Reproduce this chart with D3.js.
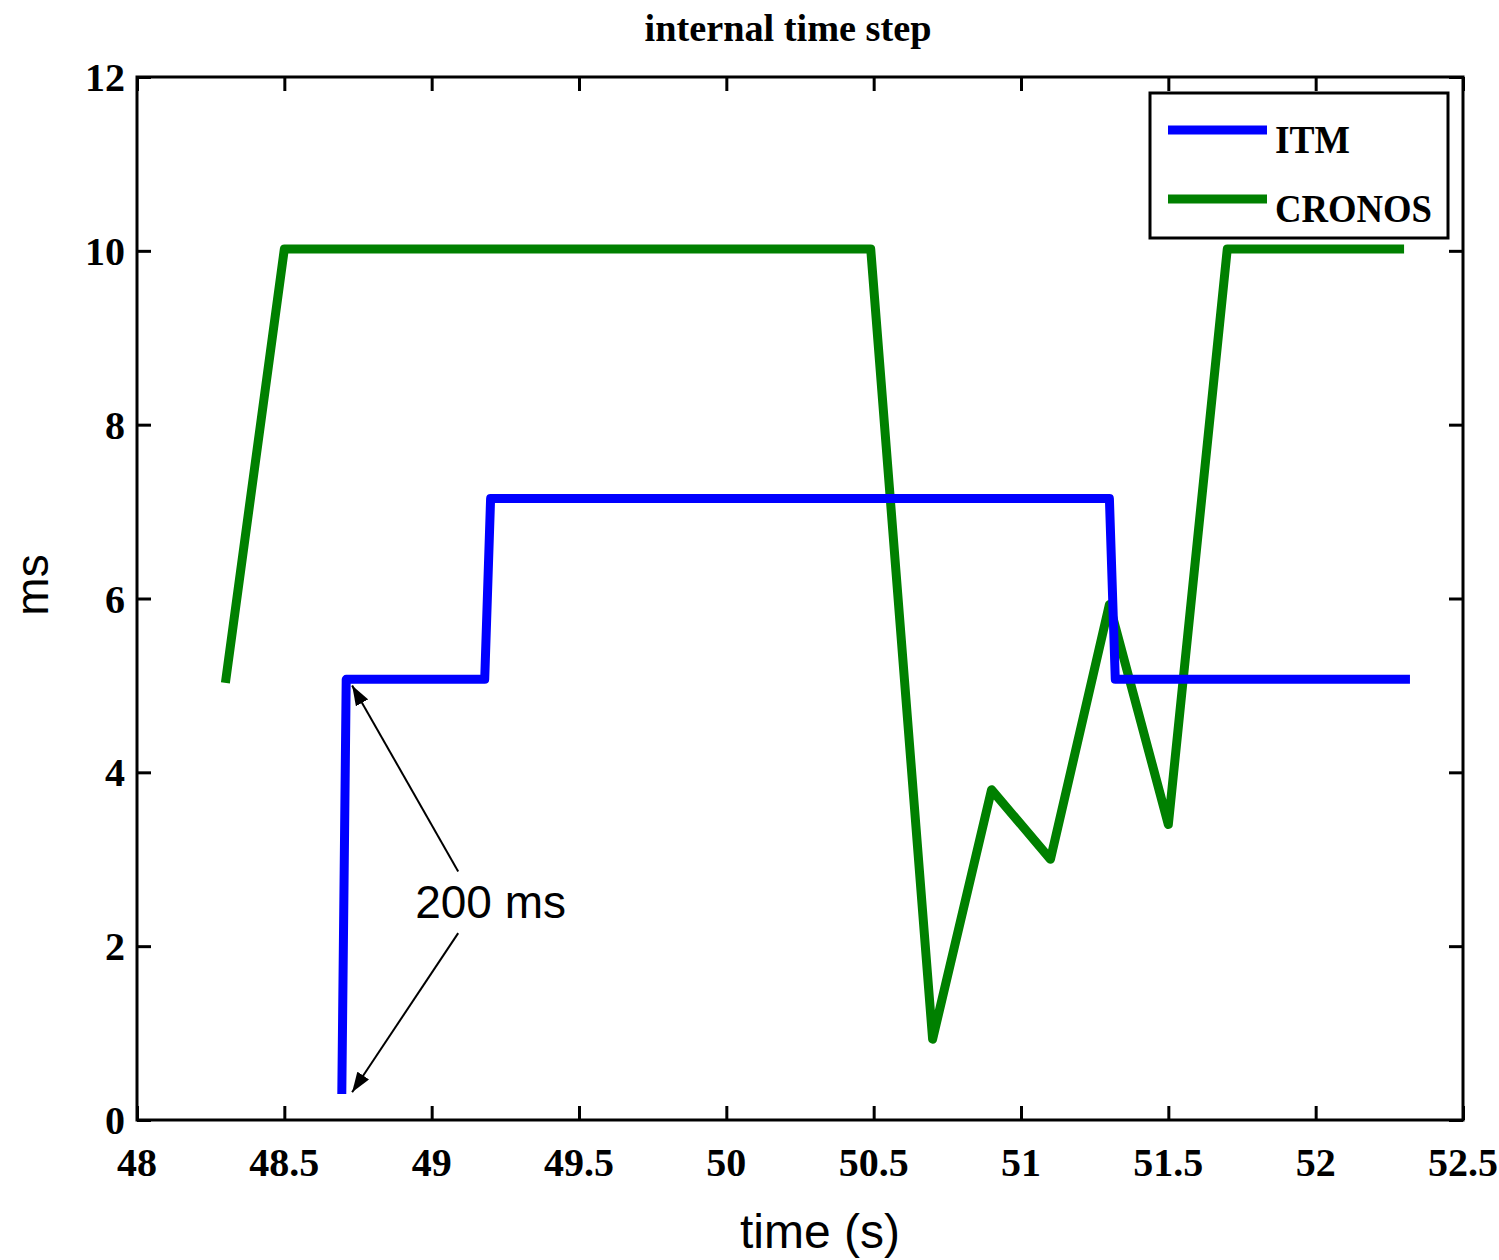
<!DOCTYPE html>
<head>
  <meta charset="utf-8">
  <title>internal time step</title>
  <script src="https://d3js.org/d3.v7.min.js"></script>
  <style type="text/css">
    body { margin: 0; background: #fff; }
    .tick-label { font-family: "Liberation Serif", serif; font-weight: bold; font-size: 40px; }
    .axis-title { font-family: "Liberation Sans", Arial, sans-serif; font-size: 46px; }
    .series { fill: none; stroke-width: 9px; stroke-linejoin: round; }
  </style>
</head>
<body>
  <div id="graph-container"></div>

<script>
// ================= data =================
  const xTicks = [48, 48.5, 49, 49.5, 50, 50.5, 51, 51.5, 52, 52.5];
  const yTicks = [0, 2, 4, 6, 8, 10, 12];

  // ITM internal time step (ms)
  const itmTime = [48.695, 48.71, 49.18, 49.2, 51.3, 51.32, 52.32];
  const itmStep = [0.3, 5.07, 5.07, 7.15, 7.15, 5.07, 5.07];

  // CRONOS internal time step (ms)
  const cronosTime = [48.3, 48.5, 50.49, 50.7, 50.9, 51.1, 51.3, 51.5, 51.7, 52.3];
  const cronosStep = [5.03, 10.02, 10.02, 0.93, 3.8, 3.0, 5.93, 3.4, 10.02, 10.02];

  const seriesNames = ["ITM", "CRONOS"];
  const seriesColors = ["#0000ff", "#008000"];

  // "200 ms" annotation: text anchor and arrow tails/tips in data units
  const noteText = "200 ms";
  const notePos = [49.2, 2.32];
  const arrowTails = [[49.09, 2.86], [49.09, 2.15]];
  const arrowTips = [[48.73, 5.0], [48.73, 0.32]];

// ================= chart prep =================
  let margin = { top: 77, right: 36, bottom: 140, left: 137 },
      width = 1499,
      height = 1260,
      w = width - margin.left - margin.right,
      h = height - margin.top - margin.bottom;

  let x = d3.scaleLinear().domain([48, 52.5]).range([0, w]);
  let y = d3.scaleLinear().domain([0, 12]).range([h, 0]);

  let svg = d3.select("#graph-container").append("svg")
        .attr("width", width)
        .attr("height", height),
      g = svg.append("g")
        .attr("transform", "translate(" + margin.left + "," + margin.top + ")");

  // arrow head marker
  svg.append("defs").append("marker")
      .attr("id", "head")
      .attr("viewBox", "0 0 20 14")
      .attr("refX", 20).attr("refY", 7)
      .attr("markerWidth", 20).attr("markerHeight", 14)
      .attr("markerUnits", "userSpaceOnUse")
      .attr("orient", "auto")
    .append("path")
      .attr("d", "M0,0 L20,7 L0,14 Z")
      .attr("fill", "#000");

  // title
  svg.append("text")
      .attr("x", 788).attr("y", 41)
      .attr("text-anchor", "middle")
      .attr("textLength", 287)
      .attr("lengthAdjust", "spacingAndGlyphs")
      .style("font-family", "'Liberation Serif', serif")
      .style("font-weight", "bold")
      .style("font-size", "38px")
      .text("internal time step");

  // ticks on all four sides (inward)
  const tl = 14;
  g.append("g").call(d3.axisBottom(x).tickValues(xTicks).tickSize(-tl).tickFormat(""))
      .attr("transform", "translate(0," + h + ")");
  g.append("g").call(d3.axisTop(x).tickValues(xTicks).tickSize(-tl).tickFormat(""));
  g.append("g").call(d3.axisLeft(y).tickValues(yTicks).tickSize(-tl).tickFormat(""));
  g.append("g").call(d3.axisRight(y).tickValues(yTicks).tickSize(-tl).tickFormat(""))
      .attr("transform", "translate(" + w + ",0)");
  g.selectAll(".domain").remove();
  g.selectAll(".tick line").attr("stroke", "#000").attr("stroke-width", 3);

  // tick labels
  g.selectAll(".xlab").data(xTicks).enter().append("text")
      .attr("class", "tick-label")
      .attr("x", d => x(d)).attr("y", h + 56)
      .attr("text-anchor", "middle")
      .text(d => d);
  g.selectAll(".ylab").data(yTicks).enter().append("text")
      .attr("class", "tick-label")
      .attr("x", -12).attr("y", d => y(d) + 14)
      .attr("text-anchor", "end")
      .text(d => d);

  // series
  const line = d3.line().x(d => x(d[0])).y(d => y(d[1]));
  const itm = itmTime.map((t, i) => [t, itmStep[i]]);
  const cronos = cronosTime.map((t, i) => [t, cronosStep[i]]);

  g.append("path").datum(cronos).attr("class", "series")
      .attr("stroke", seriesColors[1]).attr("d", line);
  g.append("path").datum(itm).attr("class", "series")
      .attr("stroke", seriesColors[0]).attr("d", line);

  // box
  g.append("rect")
      .attr("width", w).attr("height", h)
      .attr("fill", "none").attr("stroke", "#000").attr("stroke-width", 3);

  // annotation
  arrowTails.forEach((t, i) => {
    g.append("line")
      .attr("x1", x(t[0])).attr("y1", y(t[1]))
      .attr("x2", x(arrowTips[i][0])).attr("y2", y(arrowTips[i][1]))
      .attr("stroke", "#000").attr("stroke-width", 2)
      .attr("marker-end", "url(#head)");
  });
  g.append("text")
      .attr("class", "axis-title")
      .attr("x", x(notePos[0])).attr("y", y(notePos[1]))
      .attr("text-anchor", "middle")
      .text(noteText);

  // legend
  let leg = svg.append("g").attr("transform", "translate(1150,93)");
  leg.append("rect")
      .attr("width", 298).attr("height", 145)
      .attr("fill", "#fff").attr("stroke", "#000").attr("stroke-width", 3);
  const legText = [[75], [157]];
  seriesNames.forEach((name, i) => {
    let yy = 37 + i * 69;
    leg.append("line")
      .attr("x1", 18).attr("x2", 117).attr("y1", yy).attr("y2", yy)
      .attr("stroke", seriesColors[i]).attr("stroke-width", 9);
    leg.append("text")
      .attr("x", 125).attr("y", yy + 23)
      .attr("textLength", legText[i][0])
      .attr("lengthAdjust", "spacingAndGlyphs")
      .style("font-family", "'Liberation Serif', serif")
      .style("font-weight", "bold")
      .style("font-size", "40px")
      .text(name);
  });

  // axis titles
  svg.append("text")
      .attr("class", "axis-title")
      .style("font-size", "48px")
      .attr("x", 820).attr("y", 1248)
      .attr("text-anchor", "middle")
      .text("time (s)");
  svg.append("text")
      .attr("class", "axis-title")
      .attr("transform", "translate(48,585) rotate(-90)")
      .attr("text-anchor", "middle")
      .text("ms");
</script>
</body>
